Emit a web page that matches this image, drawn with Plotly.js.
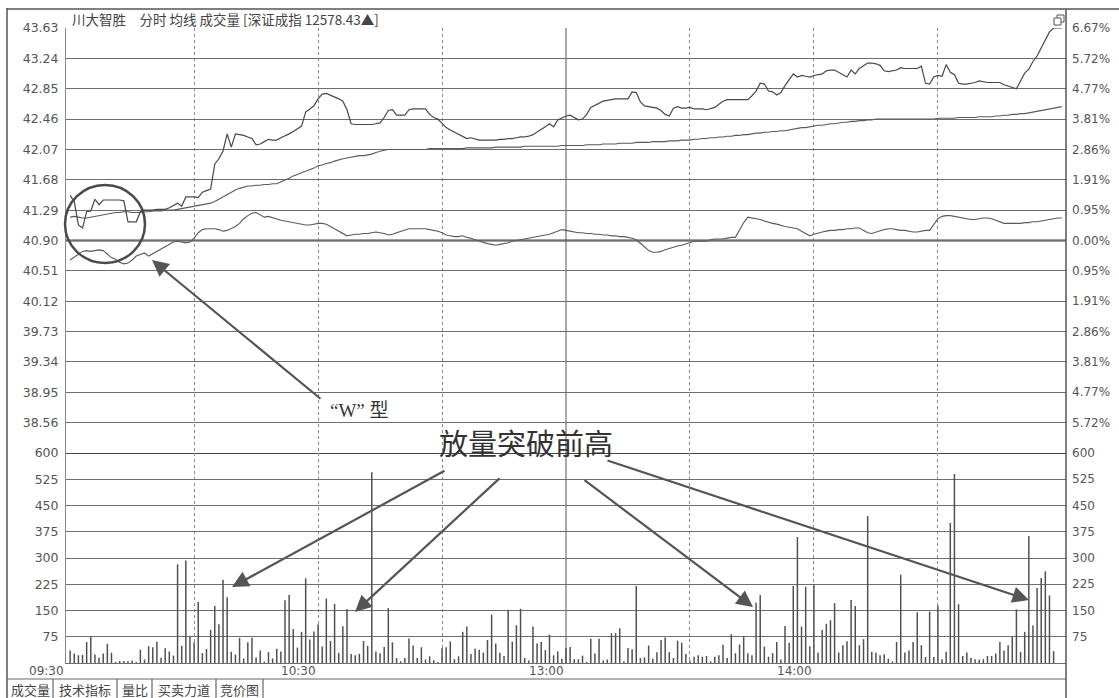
<!DOCTYPE html>
<html><head><meta charset="utf-8">
<script src="https://cdn.plot.ly/plotly-3.0.1.min.js"></script>
<style>html,body{margin:0;padding:0;background:#fff}#chart{width:1119px;height:698px}</style>
</head><body><div id="chart"></div>
<script>
// ---------- data ----------
const headerText = '川大智胜　分时 均线 成交量 [深证成指 12578.43▲]';
const prevClose = 40.90;
const priceTicks = [43.63, 43.24, 42.85, 42.46, 42.07, 41.68, 41.29, 40.90, 40.51, 40.12, 39.73, 39.34, 38.95, 38.56];
const priceTickText = ['43.63','43.24','42.85','42.46','42.07','41.68','41.29','40.90','40.51','40.12','39.73','39.34','38.95','38.56'];
const pctLabels = ['6.67%','5.72%','4.77%','3.81%','2.86%','1.91%','0.95%','0.00%','0.95%','1.91%','2.86%','3.81%','4.77%','5.72%'];
const priceRange = [38.17, 43.63];
const volTicks = [600, 525, 450, 375, 300, 225, 150, 75];
const volRange = [0, 600];
const timeLabels = ['09:30', '10:30', '13:00', '14:00'];
const timeLabelIdx = [-1, 60, 120, 180];
const halfHourIdx = [30, 60, 90, 150, 180, 210];
const middayIdx = 120;
const tabLabels = ['成交量', '技术指标', '量比', '买卖力道', '竞价图'];
const noteW = '“W” 型';
const noteVol = '放量突破前高';

// minute price (index 0 = 09:30)
const price = [
41.48,41.40,41.10,41.06,41.27,41.28,41.43,41.36,41.42,41.42,
41.42,41.42,41.42,41.41,41.14,41.14,41.14,41.27,41.29,41.29,
41.29,41.30,41.30,41.30,41.32,41.35,41.38,41.34,41.46,41.46,
41.46,41.45,41.52,41.54,41.56,41.88,41.95,42.05,42.27,42.10,
42.27,42.26,42.25,42.23,42.21,42.13,42.14,42.17,42.20,42.19,
42.19,42.22,42.24,42.27,42.30,42.33,42.37,42.55,42.59,42.63,
42.72,42.78,42.79,42.77,42.75,42.72,42.69,42.58,42.40,42.39,
42.39,42.39,42.39,42.39,42.40,42.41,42.48,42.57,42.58,42.51,
42.51,42.51,42.58,42.59,42.59,42.59,42.59,42.52,42.48,42.46,
42.41,42.35,42.32,42.29,42.26,42.23,42.21,42.22,42.20,42.19,
42.19,42.19,42.19,42.19,42.20,42.20,42.21,42.21,42.22,42.23,
42.23,42.24,42.26,42.29,42.33,42.36,42.40,42.36,42.45,42.48,
42.50,42.51,42.48,42.45,42.46,42.52,42.61,42.64,42.67,42.69,
42.70,42.71,42.72,42.72,42.72,42.72,42.81,42.80,42.68,42.63,
42.62,42.61,42.60,42.57,42.52,42.50,42.60,42.62,42.60,42.60,
42.61,42.59,42.59,42.59,42.58,42.60,42.61,42.65,42.69,42.71,
42.71,42.71,42.71,42.71,42.71,42.76,42.82,42.92,42.91,42.82,
42.81,42.77,42.80,42.89,42.97,43.04,43.00,43.02,43.01,43.00,
43.02,43.03,43.04,43.08,43.09,43.09,43.06,43.02,43.00,43.09,
43.04,43.11,43.15,43.18,43.18,43.17,43.15,43.08,43.07,43.08,
43.09,43.12,43.11,43.11,43.11,43.11,43.14,42.92,42.91,43.00,
43.02,43.01,43.16,43.06,43.03,42.92,42.91,42.91,42.92,42.93,
42.95,42.94,42.93,42.93,42.93,42.93,42.90,42.88,42.87,42.85,
42.95,43.05,43.10,43.20,43.27,43.38,43.47,43.58,43.63,43.63,43.63
];

// average price line
const avgPrice = [
41.20,41.21,41.20,41.19,41.19,41.20,41.21,41.22,41.23,41.24,
41.25,41.26,41.26,41.27,41.27,41.26,41.26,41.26,41.27,41.27,
41.28,41.28,41.28,41.29,41.29,41.29,41.30,41.31,41.32,41.33,
41.34,41.35,41.36,41.37,41.38,41.40,41.43,41.46,41.50,41.53,
41.55,41.57,41.59,41.60,41.60,41.61,41.61,41.62,41.62,41.63,
41.63,41.65,41.67,41.70,41.73,41.75,41.77,41.79,41.81,41.83,
41.86,41.87,41.89,41.90,41.92,41.94,41.95,41.96,41.97,41.98,
41.99,41.99,42.00,42.01,42.03,42.05,42.06,42.07,42.07,42.07,
42.07,42.07,42.07,42.07,42.07,42.07,42.07,42.08,42.08,42.08,
42.08,42.08,42.08,42.08,42.08,42.08,42.09,42.09,42.09,42.09,
42.09,42.09,42.09,42.10,42.10,42.10,42.10,42.10,42.10,42.10,
42.11,42.11,42.11,42.11,42.11,42.11,42.11,42.11,42.11,42.12,
42.12,42.12,42.12,42.12,42.12,42.13,42.13,42.13,42.13,42.14,
42.14,42.14,42.14,42.15,42.15,42.15,42.15,42.16,42.16,42.16,
42.16,42.17,42.17,42.17,42.17,42.18,42.18,42.18,42.19,42.19,
42.19,42.20,42.20,42.21,42.21,42.22,42.22,42.23,42.23,42.24,
42.24,42.25,42.25,42.26,42.26,42.27,42.28,42.28,42.29,42.29,
42.30,42.30,42.31,42.31,42.32,42.33,42.34,42.35,42.35,42.36,
42.37,42.38,42.38,42.39,42.40,42.40,42.41,42.42,42.42,42.43,
42.43,42.44,42.44,42.45,42.45,42.46,42.46,42.46,42.46,42.46,
42.46,42.46,42.46,42.46,42.46,42.46,42.46,42.46,42.46,42.46,
42.47,42.47,42.47,42.47,42.47,42.48,42.48,42.48,42.48,42.48,
42.49,42.49,42.49,42.49,42.50,42.50,42.51,42.51,42.52,42.52,
42.53,42.53,42.54,42.55,42.56,42.57,42.58,42.59,42.60,42.61,42.62
];

// 深证成指 overlay, expressed on the price scale
const indexLine = [
40.65,40.69,40.73,40.76,40.77,40.76,40.77,40.78,40.77,40.72,
40.68,40.66,40.62,40.60,40.61,40.65,40.70,40.72,40.74,40.70,
40.73,40.76,40.80,40.83,40.86,40.88,40.89,40.88,40.87,40.88,
40.93,41.00,41.04,41.05,41.05,41.05,41.04,41.02,41.03,41.05,
41.08,41.12,41.18,41.22,41.25,41.26,41.23,41.20,41.21,41.19,
41.17,41.16,41.15,41.14,41.13,41.12,41.11,41.10,41.10,41.11,
41.12,41.12,41.11,41.08,41.05,41.01,40.98,40.96,40.97,40.98,
40.98,40.99,40.99,41.00,41.01,41.00,40.99,40.97,40.98,41.00,
41.02,41.04,41.05,41.05,41.05,41.05,41.05,41.04,41.03,41.02,
41.00,40.97,40.96,40.95,40.95,40.96,40.94,40.93,40.91,40.89,
40.88,40.86,40.85,40.84,40.85,40.86,40.87,40.89,40.90,40.91,
40.92,40.93,40.94,40.95,40.96,40.97,40.98,41.00,41.02,41.04,
41.03,41.02,41.01,41.00,41.00,40.99,40.99,40.98,40.98,40.97,
40.97,40.96,40.96,40.95,40.95,40.94,40.93,40.91,40.87,40.82,
40.77,40.75,40.75,40.76,40.78,40.80,40.82,40.83,40.84,40.86,
40.87,40.89,40.89,40.89,40.89,40.91,40.92,40.92,40.92,40.93,
40.94,40.94,41.03,41.13,41.20,41.19,41.18,41.17,41.15,41.13,
41.12,41.11,41.09,41.08,41.07,41.06,41.05,41.02,40.99,40.96,
40.98,41.00,41.01,41.02,41.03,41.03,41.04,41.04,41.05,41.05,
41.06,41.06,41.03,41.00,40.99,41.01,41.03,41.04,41.05,41.05,
41.04,41.03,41.03,41.02,41.01,41.01,41.02,41.03,41.03,41.10,
41.18,41.21,41.22,41.22,41.21,41.20,41.19,41.18,41.17,41.17,
41.18,41.19,41.19,41.18,41.16,41.14,41.12,41.12,41.12,41.12,
41.12,41.13,41.13,41.14,41.14,41.15,41.16,41.17,41.18,41.19,41.19
];

// minute volume
const volume = [
36,27,22,23,60,74,24,15,27,55,
29,3,6,6,5,7,3,38,10,48,
45,61,15,42,33,21,282,49,293,76,
59,174,28,40,95,163,111,238,188,32,
24,72,13,59,72,16,36,4,31,13,
41,33,179,194,97,44,89,242,67,90,
111,47,184,63,169,29,105,154,26,22,
26,63,49,545,33,28,46,157,59,14,
5,14,70,50,14,45,10,19,8,3,
43,45,62,11,19,89,104,26,41,38,
30,66,138,56,29,20,152,61,108,155,
14,7,104,56,60,37,81,22,33,12,
43,46,11,11,21,3,69,27,69,7,
10,85,85,99,5,43,39,220,14,16,
50,12,31,66,73,31,14,64,58,26,
7,18,22,18,20,5,18,22,52,14,
82,28,53,75,28,22,172,194,47,18,
28,60,10,106,58,220,360,104,218,48,
222,30,94,112,122,171,30,51,62,180,
163,51,68,420,32,29,22,25,12,5,
60,252,30,36,60,145,51,17,147,17,
164,11,32,400,540,168,20,30,14,11,
9,11,20,20,27,60,36,51,75,153,
32,89,363,107,214,243,262,193,34
];

// ---------- layout helpers (pixel -> paper) ----------
const L = 66, R = 1066, T = 28, B = 663;
const px = x => (x - L) / (R - L);
const py = y => (B - y) / (B - T);
const D = py(453);

const idx = n => Array.from({length: n}, (_, i) => i);
const INK = '#4a4a4a';
const GRID = '#6e6e6e';
const NUMFONT = 'DejaVu Sans, Liberation Sans, sans-serif';
const CJK = 'Noto Sans CJK SC, DejaVu Sans, sans-serif';

const traces = [
  {type:'bar', x: idx(volume.length), y: volume, xaxis:'x', yaxis:'y', width:0.36,
   marker:{color:'#505050', line:{width:0}}, hoverinfo:'skip'},
  {type:'scatter', mode:'lines', x: idx(indexLine.length), y: indexLine, xaxis:'x2', yaxis:'y2',
   line:{color:'#5a5a5a', width:1.1}, hoverinfo:'skip'},
  {type:'scatter', mode:'lines', x: idx(avgPrice.length), y: avgPrice, xaxis:'x2', yaxis:'y2',
   line:{color:'#5a5a5a', width:1.1}, hoverinfo:'skip'},
  {type:'scatter', mode:'lines', x: idx(price.length), y: price, xaxis:'x2', yaxis:'y2',
   line:{color:'#484848', width:1.2}, hoverinfo:'skip', cliponaxis:false}
];

const xCommon = {range:[-1, 241], tickvals: halfHourIdx, showticklabels:false, ticks:'',
  showgrid:true, gridcolor:'#8a8a8a', griddash:'dot', gridwidth:1, zeroline:false, fixedrange:true};
const leftFont = {family: NUMFONT, size: 12.5, color: '#555'};
const rightFont = {family: NUMFONT, size: 12, color: '#555'};

const layout = {
  width:1119, height:698,
  margin:{l:L, r:1119-R, t:T, b:698-B, pad:0},
  paper_bgcolor:'#fff', plot_bgcolor:'#fff',
  showlegend:false, hovermode:false,
  font:{family: NUMFONT, size:12, color:'#555'},
  xaxis: Object.assign({}, xCommon, {anchor:'y', showline:true, linecolor:GRID, linewidth:1, mirror:false}),
  xaxis2: Object.assign({}, xCommon, {anchor:'y2', showline:false}),
  yaxis: {domain:[0, D], range: volRange, tickvals: volTicks, ticktext: volTicks.map(String),
    showgrid:true, gridcolor:GRID, gridwidth:1, zeroline:false, ticks:'', ticklabelstandoff:4,
    showline:true, linecolor:'#888', tickfont: leftFont, fixedrange:true},
  yaxis2: {domain:[D, 1], range: priceRange, tickvals: priceTicks, ticktext: priceTickText,
    showgrid:true, gridcolor:GRID, gridwidth:1, zeroline:false, ticks:'', ticklabelstandoff:4,
    showline:true, linecolor:'#888', tickfont: leftFont, fixedrange:true},
  yaxis3: {overlaying:'y2', side:'right', range: priceRange, tickvals: priceTicks, ticktext: pctLabels,
    showgrid:false, zeroline:false, ticks:'', ticklabelstandoff:5, tickfont: rightFont, fixedrange:true},
  yaxis4: {overlaying:'y', side:'right', range: volRange, tickvals: volTicks, ticktext: volTicks.map(String),
    showgrid:false, zeroline:false, ticks:'', ticklabelstandoff:5, tickfont: rightFont, fixedrange:true},
  shapes: [],
  annotations: []
};

// empty traces so the right-hand overlaying axes are drawn
traces.push({type:'scatter', mode:'lines', x:[], y:[], xaxis:'x2', yaxis:'y3', hoverinfo:'skip'});
traces.push({type:'scatter', mode:'lines', x:[], y:[], xaxis:'x', yaxis:'y4', hoverinfo:'skip'});

const S = layout.shapes, A = layout.annotations;
const line = (x0,y0,x1,y1,w,c) => S.push({type:'line', xref:'paper', yref:'paper', x0:px(x0), y0:py(y0), x1:px(x1), y1:py(y1), line:{color:c||INK, width:w||1}, layer:'above'});

// 13:00 solid separator
S.push({type:'line', xref:'x', yref:'paper', x0:middayIdx, x1:middayIdx, y0:0, y1:1, line:{color:'#555', width:1}, layer:'below'});
// previous close (0.00%) line
S.push({type:'line', xref:'paper', yref:'y2', x0:0, x1:1, y0:prevClose, y1:prevClose, line:{color:'#444', width:2}, layer:'below'});
// pane divider at 600
S.push({type:'line', xref:'paper', yref:'y', x0:0, x1:1, y0:volRange[1], y1:volRange[1], line:{color:'#444', width:2}, layer:'below'});
// frame
line(7, 8, 7, 698, 1.5, '#555');
line(7, 9, 1119, 9, 1.5, '#555');
line(1066, 9, 1066, 698, 1.5, '#555');
line(7, 679, 1066, 679, 1.2, '#666');
[53, 117, 152, 216, 263].forEach(x => line(x, 679, x, 698, 1.2, '#666'));
// restore icon
S.push({type:'rect', xref:'paper', yref:'paper', x0:px(1057), x1:px(1064), y0:py(22), y1:py(15), line:{color:'#555', width:1}, fillcolor:'#fff'});
S.push({type:'rect', xref:'paper', yref:'paper', x0:px(1054), x1:px(1061), y0:py(25), y1:py(18), line:{color:'#555', width:1}, fillcolor:'#fff'});
// circle around the W
S.push({type:'circle', xref:'paper', yref:'paper', x0:px(65), x1:px(145), y0:py(263), y1:py(185), line:{color:'#4a4a4a', width:2.5}, layer:'above'});

// header
A.push({xref:'paper', yref:'paper', x:px(70), y:py(19), xanchor:'left', yanchor:'middle', text: headerText, showarrow:false, font:{family:CJK, size:13.5, color:'#444'}});
// time labels
timeLabels.forEach((t,i) => A.push({xref:'x', yref:'paper', x:timeLabelIdx[i], y:py(671), xanchor:'right', yanchor:'middle', text:t, showarrow:false, font:{family:NUMFONT, size:12, color:'#555'}}));
// tab labels
const tabEdges = [7, 53, 117, 152, 216, 263];
tabLabels.forEach((t,i) => A.push({xref:'paper', yref:'paper', x:px((tabEdges[i]+tabEdges[i+1])/2), y:py(689), xanchor:'center', yanchor:'middle', text:t, showarrow:false, font:{family:CJK, size:13, color:'#444'}}));
// notes
A.push({xref:'paper', yref:'paper', x:px(359), y:py(410), xanchor:'center', yanchor:'middle', text:noteW, showarrow:false, font:{family:'Liberation Serif, Noto Sans CJK SC, serif', size:19, color:'#333'}});
A.push({xref:'paper', yref:'paper', x:px(526), y:py(442), xanchor:'center', yanchor:'middle', text:noteVol, showarrow:false, font:{family:'Noto Sans CJK SC, serif', size:29, color:'#333'}});
// arrows: tip (px) and tail (px)
const arrows = [[152,260,322,400],[232,587,446,470],[355,612,501,477],[753,607,583,479],[1029,600,606,460]];
arrows.forEach(a => A.push({xref:'paper', yref:'paper', x:px(a[0]), y:py(a[1]), ax:a[2]-a[0], ay:a[3]-a[1], axref:'pixel', ayref:'pixel', text:'', showarrow:true, arrowhead:2, arrowsize:1.5, arrowwidth:2.2, arrowcolor:'#555', standoff:0}));

Plotly.newPlot('chart', traces, layout, {staticPlot:true, displayModeBar:false});
</script>
</body></html>
